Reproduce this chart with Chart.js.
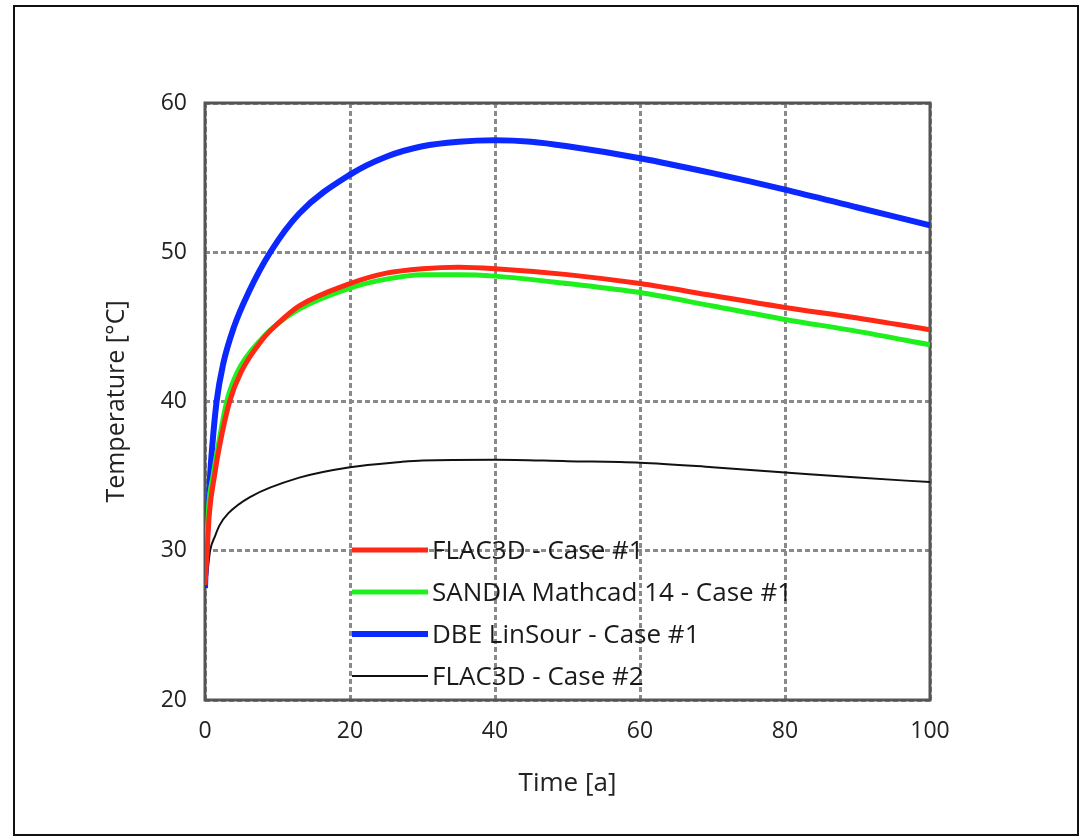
<!DOCTYPE html>
<html>
<head>
<meta charset="utf-8">
<script src="https://cdn.jsdelivr.net/npm/chart.js@4/dist/chart.umd.min.js"></script>
<style>
  body { margin: 0; background: #fff; }
  #wrap { position: relative; width: 1085px; height: 840px; }
  #frame { position: absolute; left: 13px; top: 5px; width: 1062px; height: 827px; border: 2px solid #111; }
  #temps { position: absolute; left: 0; top: 0; }
</style>
</head>
<body>
<div id="wrap">
  <div id="frame"></div>
  <canvas id="temps" width="1085" height="840"></canvas>
</div>
<script>
// values
const seriesLabels = ["FLAC3D - Case #1", "SANDIA Mathcad 14 - Case #1", "DBE LinSour - Case #1", "FLAC3D - Case #2"];

const flacTime = [0, 0.3, 0.6, 1.3, 2, 3.4, 5, 8, 10, 13, 20, 25, 30, 35, 40, 50, 60, 70, 80, 90, 100];
const flacTemp = [27.7, 30, 32.5, 35, 37, 40, 42, 44.2, 45.2, 46.4, 47.9, 48.6, 48.9, 49.0, 48.9, 48.5, 47.9, 47.1, 46.3, 45.6, 44.8];

const sandiaTime = [0, 0.3, 0.5, 1.1, 1.8, 3, 4.5, 8, 10, 13, 20, 25, 30, 35, 40, 50, 60, 70, 80, 90, 100];
const sandiaTemp = [29, 31, 33, 35, 37, 40, 42, 44.3, 45.2, 46.2, 47.6, 48.2, 48.5, 48.5, 48.4, 47.9, 47.3, 46.4, 45.5, 44.7, 43.8];

const dbeTime = [0, 0.25, 0.5, 0.7, 1, 1.6, 2.5, 4, 6, 9, 13, 20, 25, 30, 35, 40, 45, 50, 60, 70, 80, 90, 100];
const dbeTemp = [27.5, 31, 33, 35, 37, 40, 42.5, 45, 47.3, 50, 52.6, 55.2, 56.4, 57.1, 57.4, 57.5, 57.4, 57.1, 56.3, 55.3, 54.2, 53.0, 51.8];

const flac2Time = [0, 0.2, 0.7, 1.4, 2, 3.2, 6.2, 13, 20, 27, 30, 40, 50, 60, 70, 80, 90, 100];
const flac2Temp = [27.5, 28, 30, 31, 31.7, 32.5, 33.6, 34.9, 35.6, 35.95, 36.05, 36.1, 36.0, 35.9, 35.6, 35.25, 34.9, 34.6];

const xTicks = [0, 20, 40, 60, 80, 100];
const yTicks = [20, 30, 40, 50, 60];

function pts(xs, ys) {
  return xs.map((x, i) => ({ x: x, y: ys[i] }));
}

const tempData = {
  datasets: [
    { label: seriesLabels[0], data: pts(flacTime, flacTemp), borderColor: "rgb(255,40,20)", borderWidth: 5 },
    { label: seriesLabels[1], data: pts(sandiaTime, sandiaTemp), borderColor: "rgb(30,240,30)", borderWidth: 5 },
    { label: seriesLabels[2], data: pts(dbeTime, dbeTemp), borderColor: "rgb(10,40,255)", borderWidth: 6 },
    { label: seriesLabels[3], data: pts(flac2Time, flac2Temp), borderColor: "#111", borderWidth: 2 }
  ]
};

// box round the plot area
const plotBox = {
  id: "plotBox",
  beforeDatasetsDraw(chart) {
    const a = chart.chartArea, c = chart.ctx;
    c.save();
    c.strokeStyle = "#555";
    c.lineWidth = 3;
    c.strokeRect(a.left, a.top, a.right - a.left, a.bottom - a.top);
    c.restore();
  }
};

// legend drawn inside the plot, lower middle
const innerLegend = {
  id: "innerLegend",
  afterDatasetsDraw(chart) {
    const c = chart.ctx;
    c.save();
    c.font = "26px 'Open Sans'";
    c.textBaseline = "middle";
    chart.data.datasets.forEach((ds, i) => {
      const y = 550 + i * 42;
      c.strokeStyle = ds.borderColor;
      c.lineWidth = ds.borderWidth;
      c.beginPath();
      c.moveTo(352, y);
      c.lineTo(428, y);
      c.stroke();
      c.fillStyle = "#1a1a1a";
      c.fillText(ds.label, 432, y + 2);
    });
    c.restore();
  }
};

const gridStyle = {
  color: "#8a8a8a",
  lineWidth: 3,
  drawTicks: false
};

new Chart(document.getElementById("temps"), {
  type: "scatter",
  data: tempData,
  plugins: [plotBox, innerLegend],
  options: {
    responsive: false,
    animation: false,
    layout: { padding: { top: 103, right: 155 } },
    datasets: {
      scatter: { showLine: true, pointRadius: 0, cubicInterpolationMode: "monotone", fill: false }
    },
    plugins: { legend: { display: false }, tooltip: { enabled: false } },
    scales: {
      x: {
        type: "linear",
        min: 0, max: 100,
        afterBuildTicks: s => { s.ticks = xTicks.map(v => ({ value: v })); },
        afterFit: s => { s.height = 140; },
        grid: gridStyle,
        border: { display: false, dash: [5, 3] },
        ticks: { padding: 18, color: "#222", font: { family: "Open Sans", size: 23 } },
        title: { display: true, text: "Time [a]", color: "#222", padding: { bottom: 41 }, font: { family: "Open Sans", size: 26 } }
      },
      y: {
        type: "linear",
        min: 20, max: 60,
        afterBuildTicks: s => { s.ticks = yTicks.map(v => ({ value: v })); },
        afterFit: s => { s.width = 205; },
        grid: gridStyle,
        border: { display: false, dash: [5, 3] },
        ticks: { padding: 18, color: "#222", font: { family: "Open Sans", size: 23 } },
        title: { display: true, text: "Temperature [°C]", color: "#222", padding: { top: 102 }, font: { family: "Open Sans", size: 25 } }
      }
    }
  }
});
</script>
</body>
</html>
